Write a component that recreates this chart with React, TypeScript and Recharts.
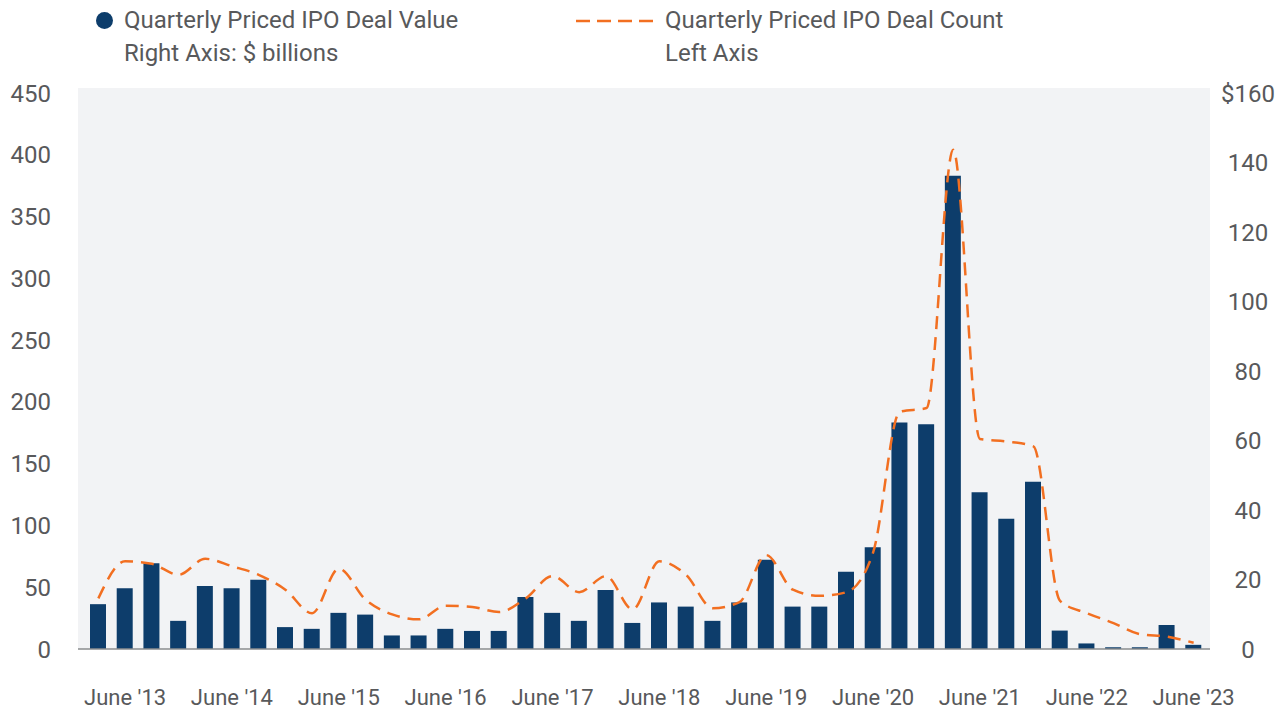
import React from "react";
import { ComposedChart, Bar, Line, XAxis, YAxis, CartesianGrid } from "recharts";

const quarters = [
  "Mar '13", "June '13", "Sept '13", "Dec '13",
  "Mar '14", "June '14", "Sept '14", "Dec '14",
  "Mar '15", "June '15", "Sept '15", "Dec '15",
  "Mar '16", "June '16", "Sept '16", "Dec '16",
  "Mar '17", "June '17", "Sept '17", "Dec '17",
  "Mar '18", "June '18", "Sept '18", "Dec '18",
  "Mar '19", "June '19", "Sept '19", "Dec '19",
  "Mar '20", "June '20", "Sept '20", "Dec '20",
  "Mar '21", "June '21", "Sept '21", "Dec '21",
  "Mar '22", "June '22", "Sept '22", "Dec '22",
  "Mar '23", "June '23",
];

// $ billions, right axis
const dealValue = [
  12.9, 17.5, 24.7, 8.1, 18.1, 17.5, 19.9, 6.3, 5.8, 10.4, 9.9, 3.9, 3.9, 5.8,
  5.2, 5.2, 15.0, 10.4, 8.1, 17.0, 7.5, 13.4, 12.2, 8.1, 13.4, 25.7, 12.2, 12.2,
  22.2, 29.3, 65.2, 64.7, 136.2, 45.1, 37.5, 48.1, 5.3, 1.6, 0.5, 0.5, 6.9, 1.2,
];

// number of deals, left axis
const dealCount = [
  41, 71, 69, 60, 73, 67, 60, 48, 29, 65, 40, 28, 24, 35,
  34, 30, 41, 59, 46, 59, 32, 71, 60, 33, 38, 76, 48, 43,
  46, 78, 192, 195, 404, 170, 168, 164, 39, 29, 21, 12, 10, 5,
];

const leftTicks = [0, 50, 100, 150, 200, 250, 300, 350, 400, 450];
const rightTicks = [0, 20, 40, 60, 80, 100, 120, 140, 160];

const data = quarters.map((q, i) => ({ q, value: dealValue[i], count: dealCount[i] }));

const NAVY = "#0d3d6b";
const ORANGE = "#f26f21";
const INK = "#58595b";
const FONT = "Roboto, sans-serif";

function RightTick(props: any) {
  const { x, y, payload } = props;
  const v = payload.value;
  return (
    <text x={x + 38} y={y} dy="0.355em" textAnchor="middle" fill={INK} fontSize={24} fontFamily={FONT}>
      {v === 160 ? "$160" : v}
    </text>
  );
}

export default function App() {
  return (
    <div style={{ position: "absolute", left: 0, top: 0, width: 1283, height: 711, background: "#fff", fontFamily: FONT }}>
      {/* legend */}
      <div style={{ position: "absolute", left: 96, top: 12, width: 17, height: 17, borderRadius: "50%", background: NAVY }} />
      <div style={{ position: "absolute", left: 124, top: 4, fontSize: 24, lineHeight: "33px", color: INK }}>
        Quarterly Priced IPO Deal Value
        <br />
        Right Axis: $ billions
      </div>
      <svg style={{ position: "absolute", left: 576, top: 18 }} width={84} height={6}>
        <line x1={0} y1={3} x2={84} y2={3} stroke={ORANGE} strokeWidth={2.5} strokeDasharray="14 7" />
      </svg>
      <div style={{ position: "absolute", left: 665, top: 4, fontSize: 24, lineHeight: "33px", color: INK }}>
        Quarterly Priced IPO Deal Count
        <br />
        Left Axis
      </div>

      <div style={{ position: "absolute", left: 0, top: 0 }}>
        <ComposedChart
          width={1283}
          height={711}
          data={data}
          margin={{ top: 88, right: 13, bottom: 12, left: 18 }}
          barCategoryGap={0}
        >
          <CartesianGrid fill="#f2f3f5" stroke="none" vertical={false} horizontal={false} />
          <XAxis
            dataKey="q"
            interval={0}
            height={50}
            padding={{ left: 7, right: 3 }}
            tickLine={false}
            tickSize={0}
            tickMargin={40}
            axisLine={{ stroke: "#8a8c8e", strokeWidth: 1.5 }}
            tickFormatter={(q: string) => (q.startsWith("June") ? q : "")}
            tick={{ fill: INK, fontSize: 22, fontFamily: FONT }}
          />
          <YAxis
            yAxisId="left"
            orientation="left"
            width={60}
            domain={[0, 450]}
            ticks={leftTicks}
            padding={{ top: 5, bottom: 0 }}
            axisLine={false}
            tickLine={false}
            tickSize={0}
            tickMargin={27}
            tick={{ fill: INK, fontSize: 24, fontFamily: FONT }}
          />
          <YAxis
            yAxisId="right"
            orientation="right"
            width={60}
            domain={[0, 160]}
            ticks={rightTicks}
            padding={{ top: 5, bottom: 0 }}
            axisLine={false}
            tickLine={false}
            tickSize={0}
            tickMargin={0}
            tick={<RightTick />}
          />
          <Bar yAxisId="right" dataKey="value" fill={NAVY} barSize={16} isAnimationActive={false} />
          <Line
            yAxisId="left"
            dataKey="count"
            type="monotone"
            stroke={ORANGE}
            strokeWidth={2.5}
            strokeDasharray="13 8"
            dot={false}
            activeDot={false}
            isAnimationActive={false}
          />
        </ComposedChart>
      </div>
    </div>
  );
}
